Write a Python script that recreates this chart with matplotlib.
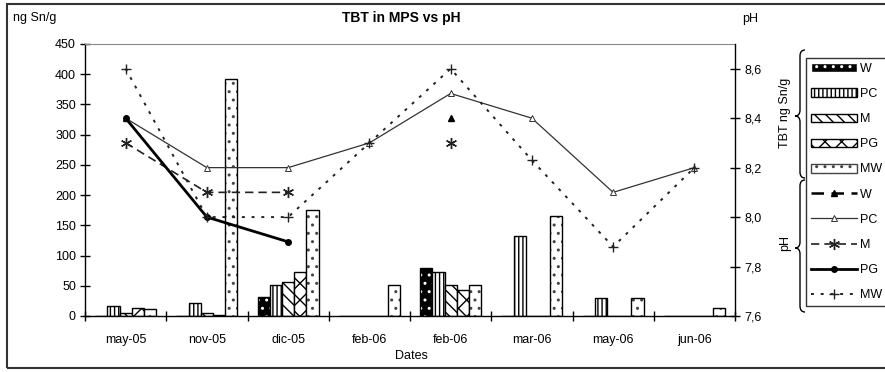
import numpy as np
import matplotlib
matplotlib.use("Agg")
import matplotlib.pyplot as plt
from matplotlib.patches import Patch, Rectangle, PathPatch
from matplotlib.lines import Line2D
from matplotlib.path import Path

plt.rcParams['font.family'] = ['Liberation Sans', 'DejaVu Sans']
plt.rcParams['hatch.linewidth'] = 1.0

# sampling dates (two samples in feb-06)
dates = ['may-05', 'nov-05', 'dic-05', 'feb-06', 'feb-06', 'mar-06', 'may-06', 'jun-06']
stations = ['W', 'PC', 'M', 'PG', 'MW']

# TBT in ng Sn/g (bars)
tbt_w = [0, 0, 32, 0, 80, 0, 0, 0]
tbt_pc = [17, 21, 51, 0, 73, 133, 29, 0]
tbt_m = [5, 5, 57, 0, 51, 0, 0, 0]
tbt_pg = [14, 2, 73, 0, 43, 0, 0, 0]
tbt_mw = [11, 392, 176, 51, 51, 165, 30, 13]

# pH (lines, right axis)
nan = np.nan
ph_w = [8.4, nan, nan, nan, 8.4, nan, nan, nan]
ph_pc = [8.4, 8.2, 8.2, 8.3, 8.5, 8.4, 8.1, 8.2]
ph_m = [8.3, 8.1, 8.1, nan, 8.3, nan, nan, nan]
ph_pg = [8.4, 8.0, 7.9, nan, nan, nan, nan, nan]
ph_mw = [8.6, 8.0, 8.0, 8.3, 8.6, 8.23, 7.88, 8.2]

W, H = 885, 372


def fx(px):
    return px / W


def fy(py):
    return 1 - py / H


fig = plt.figure(figsize=(8.85, 3.72), dpi=100)
ax = fig.add_axes([fx(85), fy(316), fx(735) - fx(85), fy(44) - fy(316)])

x = np.arange(len(dates))
bw = 0.15
bar_styles = [
    dict(facecolor='black', hatch='..', edgecolor='white'),   # W
    dict(facecolor='white', hatch='||||', edgecolor='black'),  # PC
    dict(facecolor='white', hatch='\\\\\\', edgecolor='black'),  # M
    dict(facecolor='white', hatch='xx', edgecolor='black'),    # PG
    dict(facecolor='white', hatch='..', edgecolor='#444444'),  # MW
]
tbt_all = [tbt_w, tbt_pc, tbt_m, tbt_pg, tbt_mw]
for i, (vals, st) in enumerate(zip(tbt_all, bar_styles)):
    pos = x + (i - 2) * bw
    ax.bar(pos, vals, bw, linewidth=0, **st)
    # black outline on top of the hatch
    ax.bar(pos, vals, bw, facecolor='none', edgecolor='black', linewidth=1.0)

ax.set_xlim(-0.5, len(dates) - 0.5)
ax.set_ylim(0, 450)
ax.set_yticks(np.arange(0, 451, 50))
ax.set_xticks(x)
ax.set_xticklabels(dates, fontsize=9)
ax.set_xticks(np.arange(-0.5, len(dates)), minor=True)
ax.tick_params(axis='x', which='major', length=0, pad=13)
ax.tick_params(axis='x', which='minor', direction='inout', length=7, width=1)
ax.tick_params(axis='y', direction='inout', length=7, width=1, labelsize=9, pad=3)
ax.spines['top'].set_color('#888888')
ax.spines['right'].set_visible(False)
for s in ['left', 'bottom']:
    ax.spines[s].set_linewidth(1.0)
ax.set_xlabel('Dates', fontsize=9, labelpad=0)
ax.xaxis.set_label_coords((fx(411) - fx(85)) / (fx(735) - fx(85)), -0.125)

ax2 = ax.twinx()
ax2.set_ylim(7.6, 8.7)
yt = np.arange(7.6, 8.61, 0.2)
ax2.set_yticks(yt)
ax2.set_yticklabels([('%.1f' % v).replace('.', ',') for v in yt])
ax2.tick_params(axis='y', direction='inout', length=7, width=1, labelsize=9, pad=3)
for s in ['left', 'top', 'bottom']:
    ax2.spines[s].set_visible(False)
ax2.spines['right'].set_linewidth(1.0)

line_styles = [
    dict(color='black', lw=1.8, ls=(0, (5, 3)), marker='^', ms=5, mfc='black'),
    dict(color='#333333', lw=0.9, ls='-', marker='^', ms=4, mfc='white', mew=0.7),
    dict(color='#222222', lw=1.2, ls=(0, (5, 3)), marker=(6, 2, 0), ms=8, mew=1.0),
    dict(color='black', lw=2.0, ls='-', marker='o', ms=4, mfc='black'),
    dict(color='#222222', lw=1.4, ls=(0, (1.5, 3.5)), marker='+', ms=7, mew=1.0),
]
ph_all = [ph_w, ph_pc, ph_m, ph_pg, ph_mw]
for vals, st in zip(ph_all, line_styles):
    ax2.plot(x, vals, **st)

# titles and axis captions
fig.text(fx(401), fy(18), 'TBT in MPS vs pH', fontsize=10, fontweight='bold',
         ha='center', va='center')
fig.text(fx(13), fy(18), 'ng Sn/g', fontsize=9, ha='left', va='center')
fig.text(fx(742), fy(19), 'pH', fontsize=9, ha='left', va='center')

# legend (frame runs off the right edge like the original)
handles = [Patch(**st, linewidth=1.0) for st in bar_styles]
handles[0] = Patch(facecolor='black', hatch='..', edgecolor='white')
handles += [Line2D([], [], **st) for st in line_styles]
labels = stations + stations
leg = fig.legend(handles, labels, loc='upper left',
                 bbox_to_anchor=(fx(806), fy(58)), fontsize=9,
                 handlelength=3.7, handleheight=0.7, handletextpad=0.25,
                 labelspacing=1.05, borderpad=0.4, borderaxespad=0,
                 frameon=True, fancybox=False, edgecolor='black')
leg.get_frame().set_linewidth(1.0)


def brace(x_tip, x_end, y_top, y_bot, y_mid, r=6):
    xm = (x_tip + x_end) / 2
    pts = [(x_end, y_top), (xm, y_top), (xm, y_top + r),
           (xm, y_mid - r), (xm, y_mid), (x_tip, y_mid),
           (xm, y_mid), (xm, y_mid + r),
           (xm, y_bot - r), (xm, y_bot), (x_end, y_bot)]
    codes = [Path.MOVETO, Path.CURVE3, Path.CURVE3, Path.LINETO,
             Path.CURVE3, Path.CURVE3, Path.CURVE3, Path.CURVE3,
             Path.LINETO, Path.CURVE3, Path.CURVE3]
    verts = [(fx(a), fy(b)) for a, b in pts]
    fig.add_artist(PathPatch(Path(verts, codes), transform=fig.transFigure,
                             facecolor='none', edgecolor='black', lw=1.0))


brace(795, 805, 50, 178, 116)
brace(795, 805, 180, 312, 248)
fig.text(fx(785), fy(113), 'TBT ng Sn/g', fontsize=9, rotation=90,
         ha='center', va='center')
fig.text(fx(785), fy(243), 'pH', fontsize=9, rotation=90,
         ha='center', va='center')

# outer chart border
fig.add_artist(Rectangle((fx(7), fy(368)), 1.0, fy(4) - fy(368),
                         transform=fig.transFigure, facecolor='none',
                         edgecolor='#333333', lw=1.5))

fig.savefig('out.png', dpi=100)
